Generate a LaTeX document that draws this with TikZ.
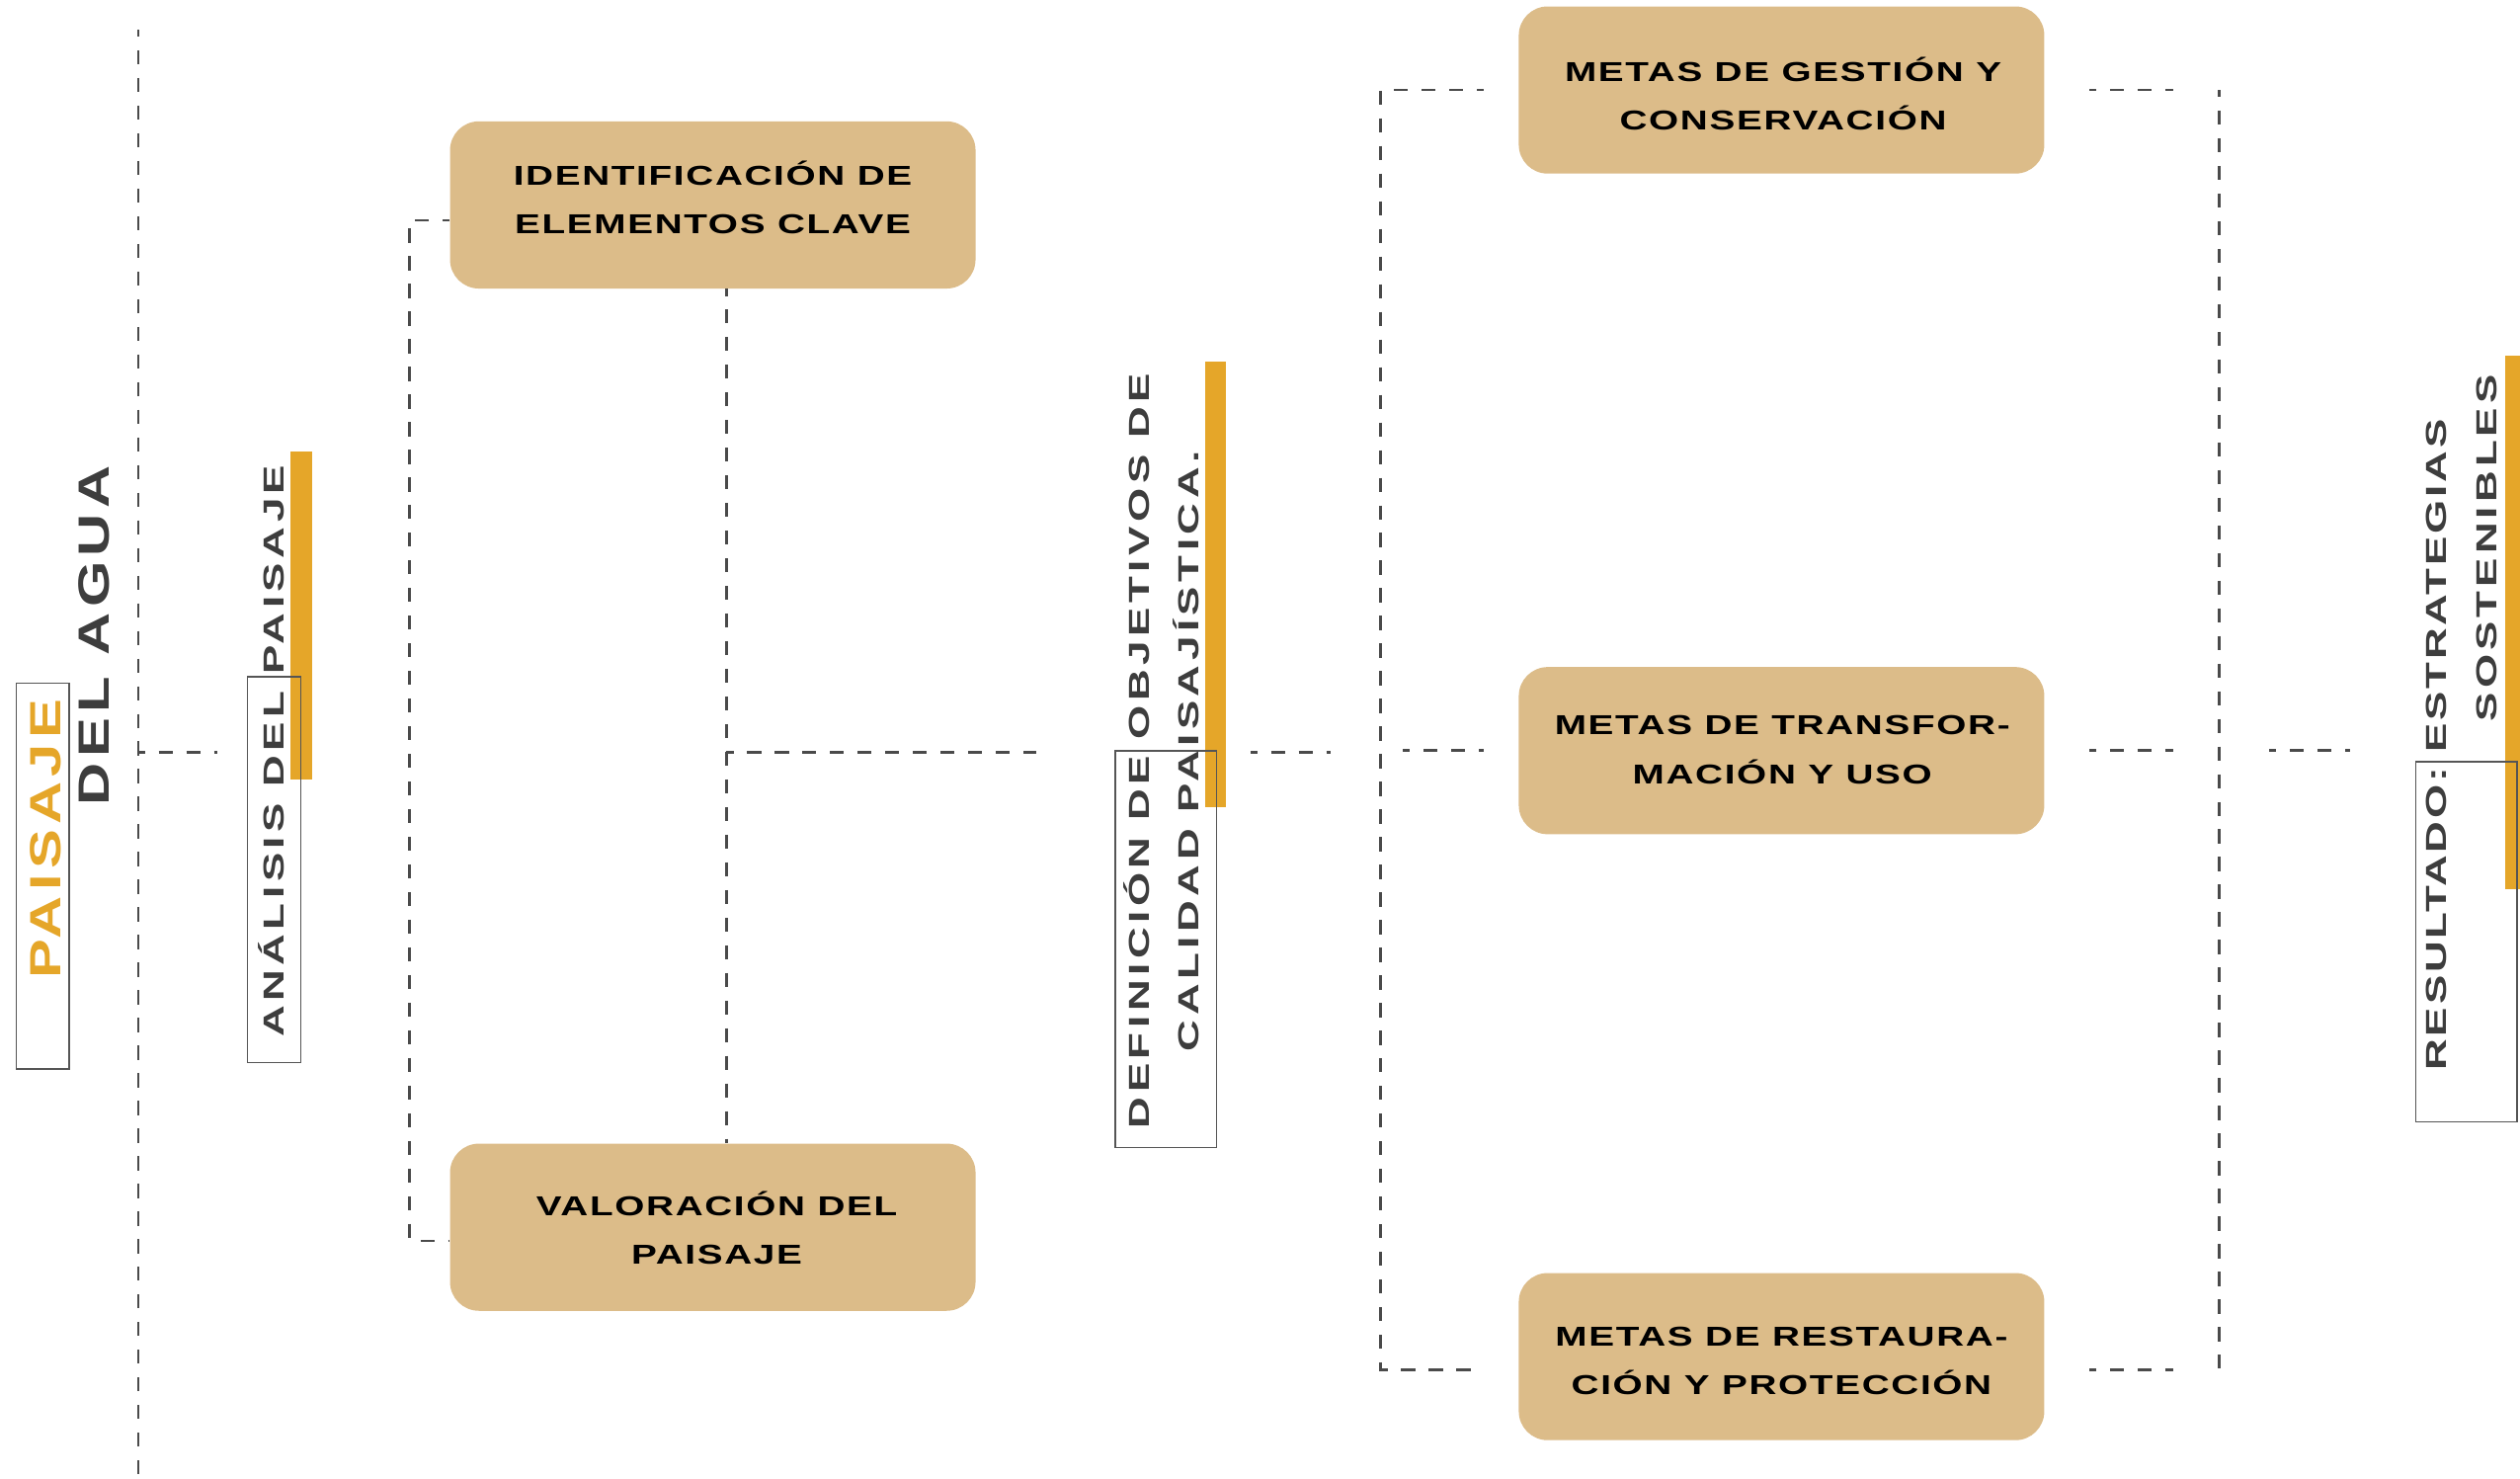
\documentclass[tikz,border=0pt]{standalone}
\usepackage{fontspec}
\setmainfont{Liberation Sans}
\newfontfamily\boxfont[FakeStretch=1.4,LetterSpace=6]{Liberation Sans}
\newfontfamily\labfont[FakeStretch=1.5,LetterSpace=15.5]{Liberation Sans}
\newfontfamily\titfont[FakeStretch=1.35,LetterSpace=12]{Liberation Sans}
\definecolor{boxfill}{HTML}{DCBC89}
\definecolor{accent}{HTML}{E5A629}
\definecolor{linegray}{HTML}{4A4A4A}
\definecolor{labgray}{HTML}{3D3D3D}
\definecolor{framegray}{HTML}{555555}
\begin{document}
\begin{tikzpicture}[x=1pt,y=-1pt,
  conn/.style={draw=linegray,line width=1.7pt,dash pattern=on 8.8pt off 8.4pt,dash phase=4.4pt},
  goal/.style={fill=boxfill,rounded corners=18pt,minimum width=327pt,minimum height=104pt,inner sep=0pt},
  goaltext/.style={inner sep=0pt,align=center,text=black,font=\boxfont\bfseries\fontsize{17}{30.3}\selectfont},
  frame/.style={draw=framegray,line width=0.9pt},
  bar/.style={fill=accent},
  vlabel/.style={rotate=90,inner sep=0pt,text=labgray,text height=13pt,text depth=0pt,
    font=\labfont\bfseries\fontsize{18}{31}\selectfont},
  vlabeltwo/.style={rotate=90,inner sep=0pt,text=labgray,align=center,
    font=\labfont\bfseries\fontsize{18}{31}\selectfont},
  title/.style={rotate=90,inner sep=0pt,text height=19.5pt,text depth=0pt,
    font=\titfont\bfseries\fontsize{27.2}{30}\selectfont}]
\useasboundingbox (0,0) rectangle (1568,920);

% orange bars
\fill[bar] (181,281) rectangle (194,485);
\fill[bar] (750,225) rectangle (763,502);
\fill[bar] (1559,221) rectangle (1568,553);

% frames
\draw[frame] (10,425) rectangle (43,665);
\draw[frame] (154,421) rectangle (187,661);
\draw[frame] (694,467) rectangle (757,714);
\draw[frame] (1503,474) rectangle (1566,698);

% titles and labels
\node[title,text=accent] (tpai) at (27.8,522) {PAISAJE};
\node[title,text=labgray] (tagua) at (58.3,395.5) {DEL AGUA};
\node[vlabel] (lana) at (170.3,467.3) {ANÁLISIS DEL PAISAJE};
\node[vlabeltwo] (ldef) at (722.6,467.3) {DEFINICIÓN DE OBJETIVOS DE\\CALIDAD PAISAJÍSTICA.};
\node[vlabel] (lres1) at (1515.4,463.5) {\addfontfeature{LetterSpace=9.6}RESULTADO: ESTRATEGIAS};
\node[vlabel] (lres2) at (1547,341) {\addfontfeature{LetterSpace=14}SOSTENIBLES};

% goal boxes
\node[goal] (b1) at (443.5,127.5) {};
\node[goal] (b2) at (443.5,763.5) {};
\node[goal] (b3) at (1108.5,56) {};
\node[goal] (b4) at (1108.5,467) {};
\node[goal] (b5) at (1108.5,844) {};
\node[goaltext] (t1) at (443.5,123) {IDENTIFICACIÓN DE\\ELEMENTOS CLAVE};
\node[goaltext] (t2) at (446,764) {VALORACIÓN DEL\\PAISAJE};
\node[goaltext] (t3) at (1109.5,58.5) {METAS DE GESTIÓN Y\\CONSERVACIÓN};
\node[goaltext] (t4) at (1109,466.5) {METAS DE TRANSFOR-\\MACIÓN Y USO};
\node[goaltext] (t5) at (1108.5,846.5) {METAS DE RESTAURA-\\CIÓN Y PROTECCIÓN};

% connector coordinates
\coordinate (m0) at (86,18.5);
\coordinate (m1) at (86,920);
\coordinate (m2) at (135,468);
\coordinate (lb1) at (255,137);
\coordinate (lb2) at (255,772);
\coordinate (mv) at (452,468);
\coordinate (mh) at (645,468);
\coordinate (d1) at (778,468);
\coordinate (d2) at (828,468);
\coordinate (rv1) at (859,56);
\coordinate (rv2) at (859,852);
\coordinate (r1) at (923,56);
\coordinate (r5) at (923,852);
\coordinate (r4a) at (873,467);
\coordinate (r4b) at (923,467);
\coordinate (s1a) at (1300,56);
\coordinate (s1b) at (1352,56);
\coordinate (s4a) at (1300,467);
\coordinate (s4b) at (1352,467);
\coordinate (s5a) at (1300,852);
\coordinate (s5b) at (1352,852);
\coordinate (sv1) at (1381,56);
\coordinate (sv2) at (1381,852);
\coordinate (e1) at (1412,467);
\coordinate (e2) at (1462,467);

% connectors
\draw[conn] (m0) -- (m1);
\draw[conn] (m0 |- m2) -- (m2);
\draw[conn] (b1.west |- lb1) -- (lb1) -- (lb2) -- (b2.west |- lb2);
\draw[conn] (b1.south -| mv) -- (b2.north -| mv);
\draw[conn] (mv) -- (mh);
\draw[conn] (d1) -- (d2);
\draw[conn] (r1) -- (rv1) -- (rv2) -- (r5);
\draw[conn] (r4a) -- (r4b);
\draw[conn] (s1a) -- (s1b);
\draw[conn] (s4a) -- (s4b);
\draw[conn] (s5a) -- (s5b);
\draw[conn] (sv1) -- (sv2);
\draw[conn] (e1) -- (e2);
\end{tikzpicture}
\end{document}
